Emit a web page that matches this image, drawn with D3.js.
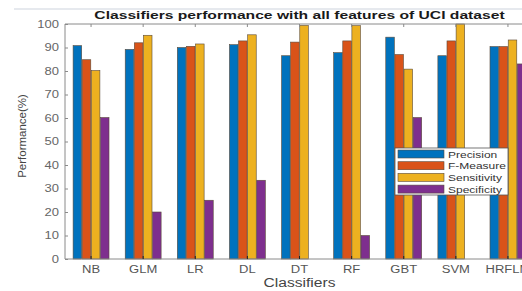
<!DOCTYPE html>
<html>
<head>
<meta charset="utf-8">
<script src="https://cdn.jsdelivr.net/npm/d3@7"></script>
<style>
  body { margin: 0; background: white; overflow: hidden; }
  text { font-family: "Liberation Sans", Arial, sans-serif; }
</style>
</head>
<body>
<script>
'use strict'

let classifiers = ['NB', 'GLM', 'LR', 'DL', 'DT', 'RF', 'GBT', 'SVM', 'HRFLM'],
    metrics = ['Precision', 'F-Measure', 'Sensitivity', 'Specificity'],
    yTicks = [0, 10, 20, 30, 40, 50, 60, 70, 80, 90, 100]

let precision   = [90.8, 89.2, 90.0, 91.2, 86.5, 87.8, 94.4, 86.5, 90.4],
    fMeasure    = [84.8, 92.0, 90.5, 92.8, 92.3, 92.8, 87.0, 92.8, 90.4],
    sensitivity = [80.2, 95.2, 91.5, 95.4, 99.4, 99.3, 80.8, 100, 93.2],
    specificity = [60.2, 20.0, 25.0, 33.5, 0, 10.0, 60.2, 0, 83.0]

let colors = ['#0072BD', '#D95319', '#EDB120', '#7E2F8E']

let width = 522,
    height = 291,
    plotLeft = 65,
    plotRight = 534,
    plotTop = 24,
    plotBottom = 259,
    stretchX = 1.3   // the source image is widened sideways

let rows = classifiers.map((c, i) => ({
    name: c,
    values: [precision[i], fMeasure[i], sensitivity[i], specificity[i]]
}))

// widen text horizontally, keeping its anchor
function stretch(sel, k) {
    sel.each(function() {
        let len = this.getComputedTextLength()
        d3.select(this)
            .attr('textLength', len * k)
            .attr('lengthAdjust', 'spacingAndGlyphs')
    })
}

let svg = d3.select('body').append('svg')
    .attr('width', width)
    .attr('height', height)

// strip of the screenshot above the figure
svg.append('rect')
    .attr('x', 14).attr('y', 8).attr('width', width).attr('height', 2)
    .attr('fill', '#e6e9ee')

let x0 = d3.scaleBand()
    .domain(classifiers)
    .range([plotLeft, plotRight])
    .paddingInner(0.29)
    .paddingOuter(0.145)

let x1 = d3.scaleBand()
    .domain(d3.range(metrics.length))
    .range([0, x0.bandwidth()])
    .padding(0.06)

let y = d3.scaleLinear()
    .domain([0, 100])
    .range([plotBottom, plotTop])

let groups = svg.selectAll('.group').data(rows).enter()
    .append('g')
    .attr('class', 'group')
    .attr('transform', d => 'translate(' + x0(d.name) + ',0)')

groups.selectAll('rect').data(d => d.values).enter()
    .append('rect')
    .attr('x', (d, i) => x1(i))
    .attr('y', d => y(d))
    .attr('width', x1.bandwidth())
    .attr('height', d => plotBottom - y(d))
    .attr('fill', (d, i) => colors[i])
    .attr('stroke', '#5a4a3a')
    .attr('stroke-width', 0.6)
    .attr('opacity', d => d > 0 ? 1 : 0)

// axes box
let axisColor = '#8a8a8a'
svg.append('line')
    .attr('x1', plotLeft).attr('x2', plotLeft).attr('y1', plotTop).attr('y2', plotBottom)
    .attr('stroke', axisColor)
svg.append('line')
    .attr('x1', plotLeft).attr('x2', plotRight).attr('y1', plotBottom).attr('y2', plotBottom)
    .attr('stroke', axisColor)
svg.append('line')
    .attr('x1', plotLeft).attr('x2', plotRight).attr('y1', plotTop).attr('y2', plotTop)
    .attr('stroke', axisColor)

let yAxis = d3.axisLeft(y)
    .tickValues(yTicks)
    .tickSize(-3)
    .tickPadding(6)

let gy = svg.append('g')
    .attr('transform', 'translate(' + plotLeft + ',0)')
    .call(yAxis)
gy.select('.domain').remove()
gy.selectAll('line').attr('stroke', axisColor)
gy.selectAll('text')
    .attr('fill', '#666')
    .style('font-size', '10px')
    .style('font-family', '"Liberation Sans", Arial, sans-serif')
    .call(stretch, stretchX)

let xAxis = d3.axisBottom(x0)
    .tickSize(-3)
    .tickPadding(7)

let gx = svg.append('g')
    .attr('transform', 'translate(0,' + plotBottom + ')')
    .call(xAxis)
gx.select('.domain').remove()
gx.selectAll('line').attr('stroke', '#222')
gx.selectAll('text')
    .attr('fill', '#555')
    .style('font-size', '10px')
    .style('font-family', '"Liberation Sans", Arial, sans-serif')
    .call(stretch, stretchX)

let gxTop = svg.append('g')
    .attr('transform', 'translate(0,' + plotTop + ')')
    .call(d3.axisTop(x0).tickSize(-3).tickFormat(''))
gxTop.select('.domain').remove()
gxTop.selectAll('line').attr('stroke', axisColor)

// title and axis labels
svg.append('text')
    .attr('x', (plotLeft + plotRight) / 2)
    .attr('y', 19)
    .attr('text-anchor', 'middle')
    .style('font-size', '11.5px')
    .style('font-weight', 'bold')
    .attr('fill', '#1a1a1a')
    .text('Classifiers performance with all features of UCI dataset')
    .call(stretch, 1.36)

svg.append('text')
    .attr('x', (plotLeft + plotRight) / 2)
    .attr('y', 287)
    .attr('text-anchor', 'middle')
    .style('font-size', '12px')
    .attr('fill', '#444')
    .text('Classifiers')
    .call(stretch, stretchX)

svg.append('text')
    .attr('transform', 'translate(26,136) rotate(-90)')
    .attr('text-anchor', 'middle')
    .style('font-size', '11.5px')
    .attr('fill', '#444')
    .text('Performance(%)')

// legend
let legend = svg.append('g')
    .attr('transform', 'translate(395,148)')

legend.append('rect')
    .attr('width', 113)
    .attr('height', 47)
    .attr('fill', 'white')
    .attr('stroke', '#555')
    .attr('stroke-width', 0.8)

let items = legend.selectAll('.item').data(metrics).enter()
    .append('g')
    .attr('class', 'item')
    .attr('transform', (d, i) => 'translate(3,' + (6 + i * 11.7) + ')')

items.append('rect')
    .attr('width', 46)
    .attr('height', 8)
    .attr('y', -4)
    .attr('fill', (d, i) => colors[i])
    .attr('stroke', '#5a4a3a')
    .attr('stroke-width', 0.6)

items.append('text')
    .attr('x', 50)
    .attr('y', 3.5)
    .style('font-size', '9px')
    .attr('fill', '#333')
    .text(d => d)
    .call(stretch, 1.33)
</script>
</body>
</html>
